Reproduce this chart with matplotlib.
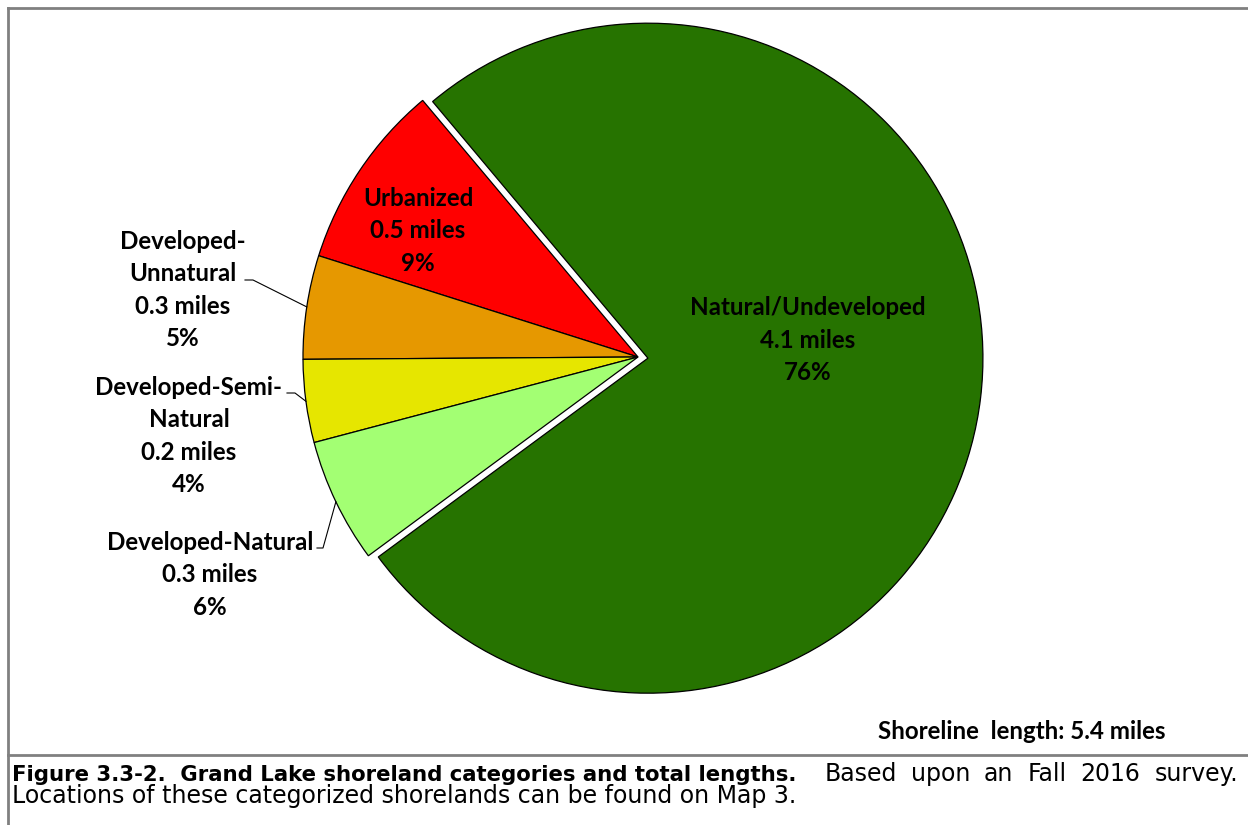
import numpy as np
import matplotlib
matplotlib.use('Agg')
import matplotlib.pyplot as plt
from matplotlib.lines import Line2D

# shoreland categories, counter-clockwise from the top of the red wedge
categories = ['Urbanized', 'Developed-Unnatural', 'Developed-Semi-Natural',
              'Developed-Natural', 'Natural/Undeveloped']
label_text = ['Urbanized', 'Developed-\nUnnatural', 'Developed-Semi-\nNatural',
              'Developed-Natural', 'Natural/Undeveloped']
miles = [0.5, 0.3, 0.2, 0.3, 4.1]
percent = [9, 5, 4, 6, 76]
colors = ['#FF0000', '#E69800', '#E6E600', '#A3FF73', '#267300']
total_miles = 5.4

caption_bold = 'Figure 3.3-2.  Grand Lake shoreland categories and total lengths.'
caption_rest = 'Based upon an Fall 2016 survey.'
caption_line2 = 'Locations of these categorized shorelands can be found on Map 3.'

W, H = 1248, 825
CX, CY, R = 638, 357, 335   # pie centre and radius in pixels

label_font = 'Lato'
caption_font = 'DejaVu Sans'


def px2fig(x, y):
    return x / W, 1 - y / H


def px2data(x, y):
    return (x - CX) / R, (CY - y) / R


fig = plt.figure(figsize=(W / 100, H / 100), dpi=100)
fig.patch.set_facecolor('white')

half = 380
ax = fig.add_axes([(CX - half) / W, (H - CY - half) / H, 2 * half / W, 2 * half / H])
explode = [0, 0, 0, 0, 10 / R]
wedges, _ = ax.pie(percent, colors=colors, startangle=130, counterclock=True,
                   explode=explode, radius=1.0,
                   wedgeprops=dict(edgecolor='black', linewidth=0.9))
lim = half / R
ax.set_xlim(-lim, lim)
ax.set_ylim(-lim, lim)
ax.set_aspect('equal')
ax.axis('off')


def label(i):
    return '%s\n%.1f miles\n%d%%' % (label_text[i], miles[i], percent[i])


txt_kw = dict(family=label_font, fontweight='bold', fontsize=17.4, ha='center',
              va='center', linespacing=1.5, color='black')

# labels sitting inside their wedges
ax.text(*px2data(418, 231), label(0), **txt_kw)
ax.text(*px2data(808, 340), label(4), **txt_kw)

# outside labels with leader lines: label centre, elbow start, elbow end
outside = {
    1: ((183, 290), (245, 280), (253, 280)),
    2: ((189, 436), (287, 393), (295, 393)),
    3: ((210, 575), (317, 548), (323, 548)),
}
for i, (centre, p0, p1) in outside.items():
    ax.text(*px2data(*centre), label(i), **txt_kw)
    w = wedges[i]
    mid = np.deg2rad((w.theta1 + w.theta2) / 2)
    edge = (np.cos(mid), np.sin(mid))
    a = px2data(*p0)
    b = px2data(*p1)
    ax.plot([a[0], b[0], edge[0]], [a[1], b[1], edge[1]], color='black',
            linewidth=0.8, clip_on=False)

fig.text(*px2fig(1165, 739), 'Shoreline  length: %.1f miles' % total_miles,
         family=label_font, fontweight='bold', fontsize=17.4, ha='right', va='baseline')

# frame around the chart and caption separator
grey = '#808080'
fig.add_artist(Line2D([8 / W, 1.0], [1 - 8 / H] * 2, color=grey, linewidth=2))
fig.add_artist(Line2D([8 / W] * 2, [1 - 8 / H, 0], color=grey, linewidth=2))
fig.add_artist(Line2D([8 / W, 1.0], [1 - 755 / H] * 2, color=grey, linewidth=2))

# caption; the first line is justified out to the right margin
renderer = fig.canvas.get_renderer()
left, right, base1, base2 = 12, 1238, 781, 803
t_bold = fig.text(*px2fig(left, base1), caption_bold, family=caption_font,
                  fontweight='bold', fontsize=15.3, va='baseline')
x_end = t_bold.get_window_extent(renderer).x1

words = caption_rest.split()
items = []
for word in words:
    t = fig.text(0, 1 - base1 / H, word, family=caption_font, fontsize=17, va='baseline')
    items.append((t, t.get_window_extent(renderer).width))
gaps = [2] + [1] * (len(words) - 1)   # double space after the bold sentence
unit = (right - x_end - sum(wd for _, wd in items)) / sum(gaps)
x = x_end
for k, (t, wd) in enumerate(items):
    x += unit * gaps[k]
    t.set_x(x / W)
    x += wd

fig.text(*px2fig(left, base2), caption_line2, family=caption_font,
         fontsize=17, va='baseline')

fig.savefig('out.png', dpi=100, facecolor='white')
